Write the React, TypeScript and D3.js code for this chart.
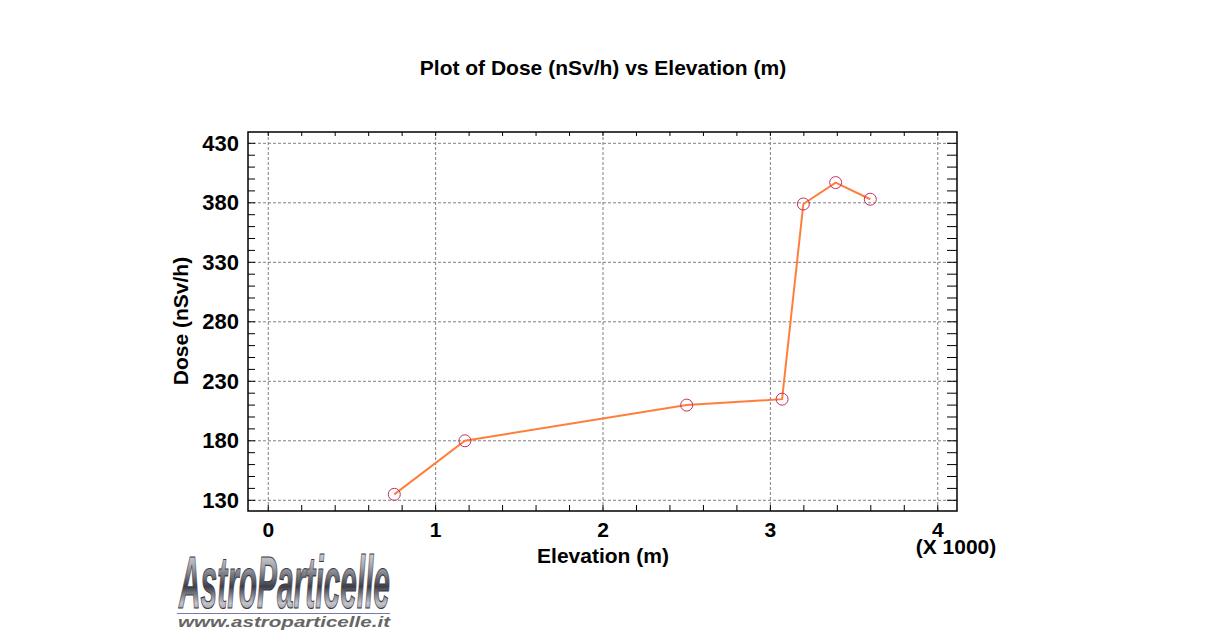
import React from "react";
import * as d3 from "d3";

const elevation = [753, 1175, 2500, 3070, 3197, 3390, 3597];
const dose = [135, 180, 210, 215, 379, 397, 383];
const xTicks = [0, 1, 2, 3, 4];
const yTicks = [130, 180, 230, 280, 330, 380, 430];

const W = 1205, H = 643;
const L = 248, R = 957, T = 132, B = 511;
const FONT = "'Liberation Sans', Arial, sans-serif";

export default function App() {
  const x = d3.scaleLinear().domain([-0.121, 4.115]).range([L, R]);
  const y = d3.scaleLinear().domain([121, 439.5]).range([B, T]);
  const pts = elevation.map((e, i) => [x(e / 1000), y(dose[i])] as [number, number]);
  const line = d3.line()(pts) || "";
  const xMinor = d3.range(-0.0, 4.11, 0.2).map((v) => +v.toFixed(2));
  const yMinor = d3.range(130, 431, 10);

  return (
    <svg width={W} height={H} style={{ position: "absolute", left: 0, top: 0, background: "#fff" }} fontFamily={FONT}>
      <defs>
        <linearGradient id="metal" x1="0" y1="0" x2="0" y2="1">
          <stop offset="0" stopColor="#f6f6f8" />
          <stop offset="0.3" stopColor="#a8a8b0" />
          <stop offset="0.55" stopColor="#3e3e48" />
          <stop offset="0.75" stopColor="#c4c4cc" />
          <stop offset="1" stopColor="#55555f" />
        </linearGradient>
      </defs>
      <rect x={0} y={0} width={W} height={H} fill="#fff" />
      <text x={603} y={75} textAnchor="middle" fontSize={21} fontWeight="bold">
        Plot of Dose (nSv/h) vs Elevation (m)
      </text>
      {/* grid */}
      {xTicks.map((t) => (
        <line key={"gx" + t} x1={x(t)} x2={x(t)} y1={T} y2={B} stroke="#808080" strokeDasharray="3,2" />
      ))}
      {yTicks.map((t) => (
        <line key={"gy" + t} x1={L} x2={R} y1={y(t)} y2={y(t)} stroke="#808080" strokeDasharray="3,2" />
      ))}
      {/* ticks */}
      {xMinor.map((t) => (
        <g key={"tx" + t}>
          <line x1={x(t)} x2={x(t)} y1={B} y2={B - 6} stroke="#000" />
          <line x1={x(t)} x2={x(t)} y1={T} y2={T + 4} stroke="#000" />
        </g>
      ))}
      {yMinor.map((t) => (
        <g key={"ty" + t}>
          <line x1={L} x2={L + 7} y1={y(t)} y2={y(t)} stroke="#000" />
          <line x1={R} x2={R - 10} y1={y(t)} y2={y(t)} stroke="#000" />
        </g>
      ))}
      <rect x={L} y={T} width={R - L} height={B - T} fill="none" stroke="#000" strokeWidth={1.5} />
      {/* tick labels */}
      {yTicks.map((t) => (
        <text key={"ly" + t} x={L - 9} y={y(t) + 7.5} textAnchor="end" fontSize={22} fontWeight="bold">
          {t}
        </text>
      ))}
      {xTicks.map((t) => (
        <text key={"lx" + t} x={x(t)} y={537} textAnchor="middle" fontSize={21} fontWeight="bold">
          {t}
        </text>
      ))}
      <text x={956} y={554} textAnchor="middle" fontSize={21} fontWeight="bold">(X 1000)</text>
      <text x={603} y={563} textAnchor="middle" fontSize={21} fontWeight="bold">Elevation (m)</text>
      <text transform={`translate(188,321) rotate(-90)`} textAnchor="middle" fontSize={21} fontWeight="bold">
        Dose (nSv/h)
      </text>
      {/* data */}
      <path d={line} fill="none" stroke="#ff7f3a" strokeWidth={2} />
      {pts.map((p, i) => (
        <circle key={"c" + i} cx={p[0]} cy={p[1]} r={6} fill="none" stroke="#c0306a" strokeWidth={1} />
      ))}
      {/* watermark logo */}
      <text x={179} y={608} fontSize={74} fontWeight="bold" fontStyle="italic" fill="url(#metal)" stroke="#3a3a44" strokeWidth={1.2}
        textLength={211} lengthAdjust="spacingAndGlyphs" fontFamily="'Liberation Sans Narrow', 'Liberation Sans', Arial">
        AstroParticelle
      </text>
      <line x1={177} x2={390} y1={613.5} y2={613.5} stroke="#7a7aa8" strokeWidth={1} />
      <text x={178} y={627} fontSize={14} fontWeight="bold" fontStyle="italic" fill="#666" textLength={212}
        lengthAdjust="spacingAndGlyphs">
        www.astroparticelle.it
      </text>
    </svg>
  );
}
